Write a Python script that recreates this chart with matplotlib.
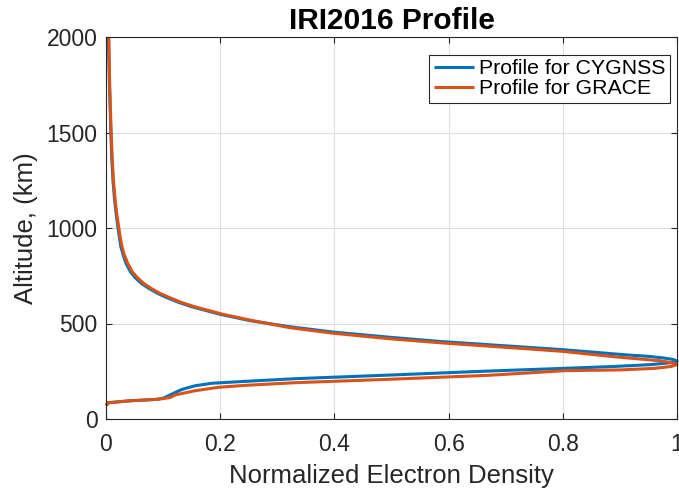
import numpy as np
import matplotlib
matplotlib.use("Agg")
import matplotlib.pyplot as plt

plt.rcParams['font.family'] = ['Liberation Sans', 'DejaVu Sans']

# IRI2016 electron density profiles (normalized), altitude in km
alt_cygnss = [70, 85, 95, 103, 110, 117, 130, 155, 174, 187, 197, 211, 230,
              250, 265, 275, 285, 295, 303, 312, 320, 328, 336, 363, 377,
              392, 406, 428, 455, 483, 515, 548, 588, 610, 640, 660, 684,
              710, 737, 770, 815, 860, 902, 950, 1000, 1070, 1147, 1250,
              1370, 1500, 1750, 2000]
ne_cygnss = [0.0, 0.004, 0.04, 0.09, 0.101, 0.106, 0.115, 0.133, 0.156,
             0.185, 0.243, 0.331, 0.497, 0.66, 0.80, 0.89, 0.955, 0.99,
             1.0, 0.993, 0.975, 0.95, 0.91, 0.80, 0.73, 0.655, 0.585,
             0.497, 0.398, 0.322, 0.252, 0.200, 0.150, 0.128, 0.103, 0.089,
             0.075, 0.062, 0.052, 0.043, 0.035, 0.030, 0.026, 0.0235, 0.021,
             0.018, 0.015, 0.0122, 0.010, 0.0085, 0.006, 0.0042]

alt_grace = [70, 85, 95, 103, 112, 126, 148, 166, 176, 190, 208, 229, 253,
             257, 265, 275, 285, 295, 305, 323, 354, 368, 381, 398, 420,
             449, 478, 515, 548, 588, 610, 640, 660, 684, 710, 737, 770,
             815, 860, 902, 950, 1000, 1070, 1147, 1250, 1370, 1500, 1750,
             2000]
ne_grace = [0.0, 0.004, 0.04, 0.09, 0.112, 0.121, 0.156, 0.197, 0.243,
            0.331, 0.497, 0.672, 0.804, 0.90, 0.96, 0.99, 1.0, 0.99, 0.97,
            0.90, 0.80, 0.735, 0.672, 0.59, 0.497, 0.398, 0.322, 0.257,
            0.205, 0.155, 0.132, 0.108, 0.093, 0.079, 0.066, 0.056, 0.046,
            0.038, 0.032, 0.028, 0.025, 0.0225, 0.019, 0.016, 0.013, 0.0108,
            0.009, 0.0065, 0.005]

ink = '#262626'
blue = '#0072BD'
orange = '#D95319'

fig = plt.figure(figsize=(6.79, 4.93), dpi=100)
ax = fig.add_axes([106 / 679, 74 / 493, 571 / 679, 382 / 493])

ax.plot(ne_cygnss, alt_cygnss, color=blue, lw=2.2, label='Profile for CYGNSS',
        clip_on=False, solid_capstyle='butt', solid_joinstyle='round')
ax.plot(ne_grace, alt_grace, color=orange, lw=2.2, label='Profile for GRACE',
        clip_on=False, solid_capstyle='butt', solid_joinstyle='round')

ax.set_xlim(0, 1)
ax.set_ylim(0, 2000)
ax.set_xticks([0, 0.2, 0.4, 0.6, 0.8, 1])
ax.set_xticklabels(['0', '0.2', '0.4', '0.6', '0.8', '1'])
ax.set_yticks([0, 500, 1000, 1500, 2000])

ax.grid(True, color='#dfdfdf', lw=0.8)
ax.set_axisbelow(True)
for s in ax.spines.values():
    s.set_color(ink)
    s.set_linewidth(0.8)
ax.tick_params(direction='in', length=4.5, width=0.8, color=ink,
               labelcolor=ink, labelsize=16.5, top=True, right=True)
ax.tick_params(axis='x', pad=10)
ax.tick_params(axis='y', pad=6)

ax.set_xlabel('Normalized Electron Density', fontsize=18.5, color=ink,
              labelpad=6)
ax.set_ylabel('Altitude, (km)', fontsize=18.5, color=ink, labelpad=6)
ax.set_title('IRI2016 Profile', fontsize=21.5, fontweight='bold',
             color='black', pad=6)

leg = ax.legend(loc='upper right', bbox_to_anchor=(0.9877, 0.953),
                borderaxespad=0, fontsize=15.3, fancybox=False,
                framealpha=1, edgecolor=ink, handlelength=1.9,
                handletextpad=0.25, borderpad=0.2, labelspacing=0.05)
leg.get_frame().set_linewidth(0.8)
for t in leg.get_texts():
    t.set_color('black')

fig.savefig('out.png', dpi=100)
